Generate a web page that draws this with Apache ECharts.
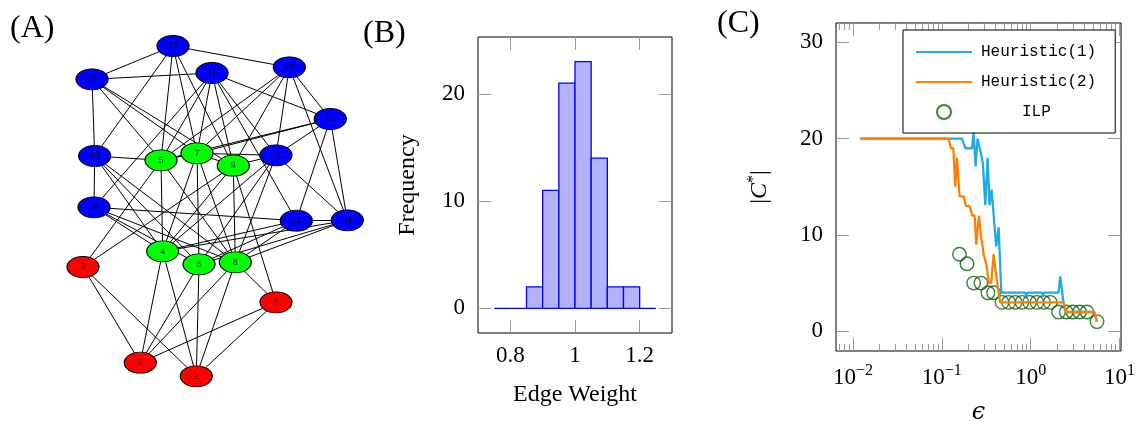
<!DOCTYPE html>
<html>
<head>
<meta charset="utf-8">
<script src="https://cdn.jsdelivr.net/npm/echarts@6/dist/echarts.min.js"></script>
<style>
  html, body { margin: 0; padding: 0; background: #fff; }
  #chart { width: 1144px; height: 421px; }
</style>
</head>
<body>
<div id="chart"></div>
<script>
// ---------- (A) network: nodes, communities, layout, edges ----------
const nodeNames = ['0','1','2','3','4','5','6','7','8','9','10','11','12','13','14','15','16','17','18','19'];
// community of each node: 0 = red, 1 = green, 2 = blue
const nodeGroup = [0,0,0,0,1,1,1,1,1,1,2,2,2,2,2,2,2,2,2,2];
// layout coordinates (y grows downward)
const nodeX = [140.3,276,196.3,83,162.7,161,199,197,235.3,233.3,94,212,296.3,330.3,347.3,289.3,276,173,94.7,92];
const nodeY = [362.7,302.3,376.3,267,251.3,160.3,264.3,153.3,262.3,165.7,207.3,73,220.7,119,220.3,67.3,155.3,46,156,79.3];
const edgeList = [
  [17,19],[17,15],[17,18],[19,11],[19,18],[18,10],[11,13],[11,16],[11,12],[11,10],
  [15,13],[15,16],[15,14],[13,16],[13,12],[13,14],[16,14],[12,14],[10,12],
  [17,5],[17,7],[17,9],[19,5],[19,7],[19,9],[18,5],[18,4],[18,6],[18,8],
  [10,4],[10,6],[10,8],[11,5],[11,7],[11,9],[15,5],[15,7],[15,9],[13,5],[13,7],
  [16,7],[16,9],[16,4],[16,6],[16,8],[12,4],[12,6],[12,8],[14,4],[14,6],[14,8],
  [5,7],[7,9],[5,4],[7,6],[9,8],[5,8],[7,4],[7,8],[9,4],
  [3,5],[3,9],[0,4],[0,6],[0,8],[2,4],[2,6],[2,8],[1,8],[1,9],
  [3,0],[3,2],[0,1],[2,1]
];
const groupColors = ['#ff0000', '#00ff00', '#0000ff'];

// ---------- (B) edge weight histogram ----------
const binEdges = [0.75, 0.8, 0.85, 0.9, 0.95, 1.0, 1.05, 1.1, 1.15, 1.2, 1.25];
const binCounts = [0, 0, 2, 11, 21, 23, 14, 2, 2, 0];
const histXTicks = [0.8, 1, 1.2];
const histYTicks = [0, 10, 20];

// ---------- (C) number of clusters vs epsilon ----------
const h1Eps  = [0.0121, 0.1683, 0.1837, 0.2183, 0.2275, 0.2399, 0.2523, 0.2704, 0.2897, 0.3083, 0.3273, 0.3443, 0.3631, 0.3819, 0.4093, 0.4355, 0.4667, 0.870, 0.891, 0.912, 1.35, 1.375, 1.40, 2.056, 2.148, 2.339, 2.512, 5.188, 5.559];
const h1Size = [20, 20, 19, 19, 20.6, 17.1, 20, 18.8, 17.4, 13.1, 18, 13.1, 14.7, 12.2, 8.8, 10.8, 4, 4, 3.6, 4, 4, 3.6, 4, 4, 5.7, 3, 2, 2, 1];
const h2Eps  = [0.0121, 0.1191, 0.1265, 0.1349, 0.1416, 0.1479, 0.1585, 0.1758, 0.1866, 0.2051, 0.2198, 0.2339, 0.2438, 0.2612, 0.2754, 0.2951, 0.3162, 0.3388, 0.3597, 0.3819, 0.4064, 0.4355, 0.4539, 2.339, 2.512, 5.188, 5.559];
const h2Size = [20, 20, 19, 19, 15, 18, 14, 14, 13, 13, 12, 12, 9, 12, 10, 8, 7, 5, 5, 8, 6, 4, 3, 3, 2, 2, 1];
const ilpEps  = [0.158, 0.192, 0.228, 0.275, 0.330, 0.382, 0.475, 0.564, 0.670, 0.797, 0.971, 1.175, 1.396, 1.660, 2.056, 2.512, 2.990, 3.548, 4.297, 5.572];
const ilpSize = [8, 7, 5, 5, 4, 4, 3, 3, 3, 3, 3, 3, 3, 3, 2, 2, 2, 2, 2, 1];
const epsDecades = [-2, -1, 0, 1];
const sizeTicks = [0, 10, 20, 30];

// ---------- shared styling ----------
const SERIF = '"Liberation Serif", "Times New Roman", serif';
const TICK = '#9a9a9a';
const LOG_MIN = -2.191, LOG_MAX = 1.016;

const minorLogs = [];
[-3].concat(epsDecades).forEach(d => {
  for (let k = 2; k < 10; k++) {
    const v = d + Math.log10(k);
    if (v > LOG_MIN && v < LOG_MAX) minorLogs.push(v);
  }
});

const supMinus = n => (n < 0 ? '\u2212' + (-n) : String(n));

function tickAxis(base, extra) {
  return Object.assign({
    type: 'value',
    axisLine: { show: false, onZero: false },
    splitLine: { show: false },
    axisLabel: { show: false },
    axisTick: { show: true, inside: true, length: 13, lineStyle: { color: TICK, width: 1 } }
  }, base, extra);
}

const nodes = nodeNames.map((n, i) => ({
  name: n,
  value: [nodeX[i], nodeY[i]],
  itemStyle: { color: groupColors[nodeGroup[i]] }
}));
const links = edgeList.map(e => ({ source: nodeNames[e[0]], target: nodeNames[e[1]] }));

const histData = binCounts.map((c, i) => [binEdges[i], binEdges[i + 1], c]);

const chart = echarts.init(document.getElementById('chart'), null, { renderer: 'canvas' });
chart.setOption({
  animation: false,
  backgroundColor: '#fff',
  textStyle: { fontFamily: SERIF },
  grid: [
    { left: 0, top: 0, width: 360, height: 421, show: false, outerBoundsMode: 'none', containLabel: false },
    { left: 478, top: 37, width: 194, height: 296, show: true, borderColor: '#000', borderWidth: 1, backgroundColor: 'transparent', outerBoundsMode: 'none', containLabel: false },
    { left: 836, top: 23, width: 285, height: 328, show: true, borderColor: '#000', borderWidth: 1, backgroundColor: 'transparent', outerBoundsMode: 'none', containLabel: false }
  ],
  xAxis: [
    { type: 'value', gridIndex: 0, min: 0, max: 360, show: false, axisLine: { onZero: false } },
    tickAxis({ gridIndex: 1, min: 0.7, max: 1.3, position: 'bottom' }, {
      axisTick: { show: true, inside: true, length: 13, customValues: histXTicks, lineStyle: { color: TICK } },
      axisLabel: { show: true, customValues: histXTicks, margin: 11, fontSize: 23, color: '#000', fontFamily: SERIF, formatter: v => String(v) },
      name: 'Edge Weight', nameLocation: 'middle', nameGap: 50,
      nameTextStyle: { fontSize: 24, color: '#000', fontFamily: SERIF }
    }),
    tickAxis({ gridIndex: 1, min: 0.7, max: 1.3, position: 'top' }, {
      axisTick: { show: true, inside: true, length: 13, customValues: histXTicks, lineStyle: { color: TICK } }
    }),
    tickAxis({ gridIndex: 2, min: LOG_MIN, max: LOG_MAX, position: 'bottom' }, {
      axisTick: { show: true, inside: true, length: 13, customValues: epsDecades, lineStyle: { color: TICK } },
      axisLabel: {
        show: true, customValues: epsDecades, margin: 12, color: '#000',
        formatter: v => '{b|10}{s|' + supMinus(Math.round(v)) + '}',
        rich: {
          b: { fontSize: 23, fontFamily: SERIF, color: '#000', lineHeight: 30 },
          s: { fontSize: 16, fontFamily: SERIF, color: '#000', verticalAlign: 'top', lineHeight: 18 }
        }
      },
      name: '\u03f5', nameLocation: 'middle', nameGap: 50,
      nameTextStyle: { fontSize: 24, color: '#000', fontFamily: '"DejaVu Serif", serif', fontStyle: 'italic' }
    }),
    tickAxis({ gridIndex: 2, min: LOG_MIN, max: LOG_MAX, position: 'bottom' }, {
      axisTick: { show: true, inside: true, length: 7, customValues: minorLogs, lineStyle: { color: TICK } }
    }),
    tickAxis({ gridIndex: 2, min: LOG_MIN, max: LOG_MAX, position: 'top' }, {
      axisTick: { show: true, inside: true, length: 13, customValues: epsDecades, lineStyle: { color: TICK } }
    }),
    tickAxis({ gridIndex: 2, min: LOG_MIN, max: LOG_MAX, position: 'top' }, {
      axisTick: { show: true, inside: true, length: 7, customValues: minorLogs, lineStyle: { color: TICK } }
    })
  ],
  yAxis: [
    { type: 'value', gridIndex: 0, min: 0, max: 421, inverse: true, show: false, axisLine: { onZero: false } },
    tickAxis({ gridIndex: 1, min: -2.3, max: 25.3, position: 'left' }, {
      axisTick: { show: true, inside: true, length: 13, customValues: histYTicks, lineStyle: { color: TICK } },
      axisLabel: { show: true, customValues: histYTicks, margin: 13, fontSize: 23, color: '#000', fontFamily: SERIF },
      name: 'Frequency', nameLocation: 'middle', nameGap: 58, nameRotate: 90,
      nameTextStyle: { fontSize: 24, color: '#000', fontFamily: SERIF }
    }),
    tickAxis({ gridIndex: 1, min: -2.3, max: 25.3, position: 'right' }, {
      axisTick: { show: true, inside: true, length: 13, customValues: histYTicks, lineStyle: { color: TICK } }
    }),
    tickAxis({ gridIndex: 2, min: -2.05, max: 32, position: 'left' }, {
      axisTick: { show: true, inside: true, length: 13, customValues: sizeTicks, lineStyle: { color: TICK } },
      axisLabel: { show: true, customValues: sizeTicks, margin: 13, fontSize: 23, color: '#000', fontFamily: SERIF },
      name: '{p||}{c|C}{s|*}{p||}', nameLocation: 'middle', nameGap: 62, nameRotate: 90,
      nameTextStyle: {
        fontSize: 24, color: '#000', fontFamily: SERIF,
        rich: {
          p: { fontSize: 24, fontFamily: SERIF, color: '#000', lineHeight: 28 },
          c: { fontSize: 24, fontFamily: SERIF, fontStyle: 'italic', color: '#000', lineHeight: 28 },
          s: { fontSize: 16, fontFamily: SERIF, color: '#000', verticalAlign: 'top', lineHeight: 16 }
        }
      }
    }),
    tickAxis({ gridIndex: 2, min: -2.05, max: 32, position: 'right' }, {
      axisTick: { show: true, inside: true, length: 13, customValues: sizeTicks, lineStyle: { color: TICK } }
    })
  ],
  legend: {
    left: 903, top: 30,
    orient: 'vertical',
    selectedMode: false,
    backgroundColor: '#fff',
    borderColor: '#000', borderWidth: 1, borderRadius: 0,
    padding: [14, 19, 13, 12],
    itemWidth: 56, itemHeight: 14, itemGap: 14,
    textStyle: { fontFamily: '"Liberation Mono", monospace', fontSize: 16, color: '#000', padding: [0, 0, 0, 4] },
    data: [
      { name: 'Heuristic(1)', itemStyle: { opacity: 0 } },
      { name: 'Heuristic(2)', itemStyle: { opacity: 0 } },
      { name: 'ILP', textStyle: { padding: [0, 0, 0, 45] } }
    ]
  },
  graphic: [
    { type: 'text', x: 10, y: 29, style: { text: '(A)', font: '32px ' + SERIF, fill: '#000', verticalAlign: 'middle' } },
    { type: 'text', x: 363, y: 34, style: { text: '(B)', font: '32px ' + SERIF, fill: '#000', verticalAlign: 'middle' } },
    { type: 'text', x: 717, y: 24, style: { text: '(C)', font: '32px ' + SERIF, fill: '#000', verticalAlign: 'middle' } }
  ],
  series: [
    {
      type: 'graph',
      layout: 'none',
      coordinateSystem: 'cartesian2d',
      xAxisIndex: 0, yAxisIndex: 0,
      silent: true,
      symbol: 'circle',
      symbolSize: [32, 21],
      data: nodes,
      links: links,
      itemStyle: { borderColor: '#000', borderWidth: 1 },
      lineStyle: { color: '#000', width: 1, opacity: 1, curveness: 0 },
      label: { show: true, position: 'inside', formatter: '{b}', fontSize: 9, fontFamily: SERIF, color: '#000' },
      emphasis: { disabled: true }
    },
    {
      type: 'custom',
      name: 'Edge weights',
      xAxisIndex: 1, yAxisIndex: 1,
      silent: true,
      data: histData,
      encode: { x: [0, 1], y: 2 },
      renderItem: function (params, api) {
        const p0 = api.coord([api.value(0), 0]);
        const p1 = api.coord([api.value(1), api.value(2)]);
        return {
          type: 'rect',
          shape: { x: p0[0], y: p1[1], width: p1[0] - p0[0], height: p0[1] - p1[1] },
          style: { fill: '#b3b3ff', stroke: '#0000ff', lineWidth: 1.3 }
        };
      }
    },
    {
      type: 'line',
      name: 'Heuristic(1)',
      xAxisIndex: 3, yAxisIndex: 3,
      symbol: 'none',
      data: h1Eps.map((e, i) => [Math.log10(e), h1Size[i]]),
      itemStyle: { color: '#1fabe6' },
      lineStyle: { color: '#1fabe6', width: 2.3 }
    },
    {
      type: 'line',
      name: 'Heuristic(2)',
      xAxisIndex: 3, yAxisIndex: 3,
      symbol: 'none',
      data: h2Eps.map((e, i) => [Math.log10(e), h2Size[i]]),
      itemStyle: { color: '#ff8000' },
      lineStyle: { color: '#ff8000', width: 2.3 }
    },
    {
      type: 'scatter',
      name: 'ILP',
      xAxisIndex: 3, yAxisIndex: 3,
      symbol: 'circle',
      symbolSize: 13.5,
      data: ilpEps.map((e, i) => [Math.log10(e), ilpSize[i]]),
      itemStyle: { color: 'rgba(0,0,0,0)', borderColor: '#0b5e0b', borderWidth: 1.4 }
    }
  ]
});
</script>
</body>
</html>
